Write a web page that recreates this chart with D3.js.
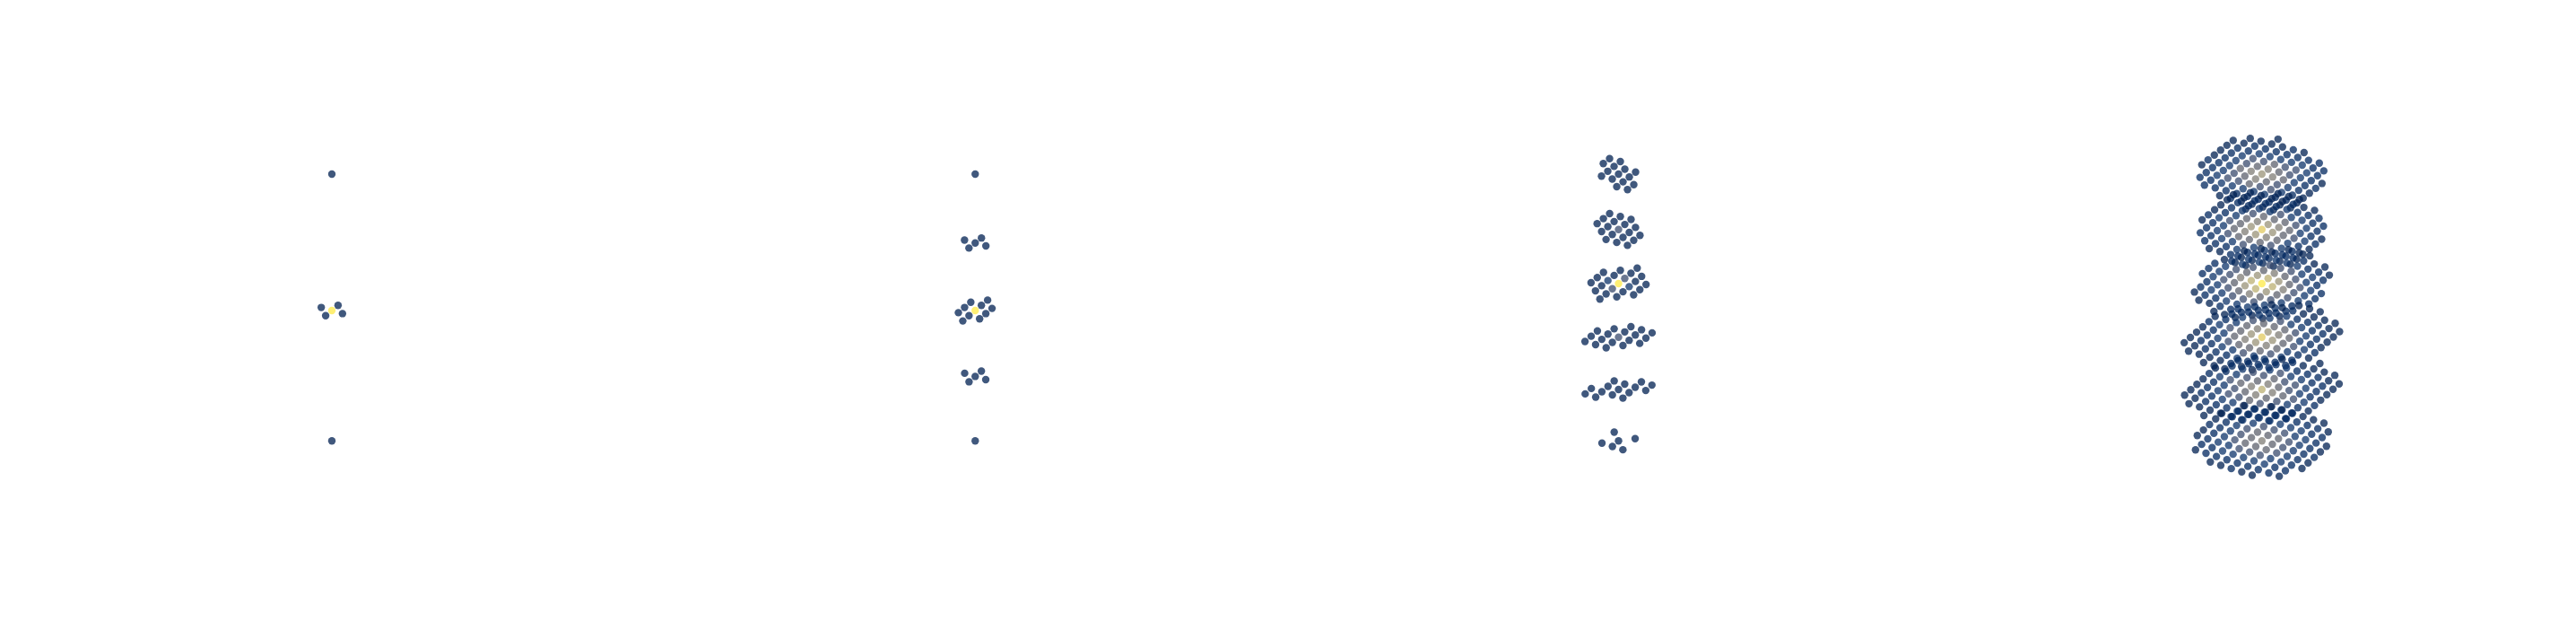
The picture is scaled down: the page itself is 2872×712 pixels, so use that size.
<!DOCTYPE html>
<html><head><meta charset="utf-8">
<script src="https://cdn.jsdelivr.net/npm/d3@7"></script>
<style>html,body{margin:0;padding:0;background:#fff}svg{display:block}</style>
</head><body><svg id="chart" width="2872" height="712"></svg>
<script>
// Each row: [lattice row i, first lattice column j, one level digit (0-9) per point]
const levelValues = [0,0.04,0.11,0.24,0.36,0.5,0.62,0.75,0.87,1];
const panel1Layers = [
  {z:0,   rows:[[0,0,"0"]]},
  {z:2.5, rows:[[1,0,"0"],[0,-1,"090"],[-1,0,"0"]]},
  {z:5,   rows:[[0,0,"0"]]}
];
const panel2Layers = [
  {z:0,    rows:[[0,0,"0"]]},
  {z:1.25, rows:[[1,0,"0"],[0,-1,"000"],[-1,0,"0"]]},
  {z:2.5,  rows:[[2,0,"0"],[1,-1,"000"],[0,-1,"090"],[-1,-1,"000"],[-2,0,"0"]]},
  {z:3.75, rows:[[1,0,"0"],[0,-1,"000"],[-1,0,"0"]]},
  {z:5,    rows:[[0,0,"0"]]}
];
const panel3Layers = [
  {z:0, rows:[[2,-2,"00"],[1,-2,"0000"],[0,-1,"000"],[-1,-1,"0000"],[-2,1,"00"]]},
  {z:1, rows:[[2,-2,"000"],[1,-2,"0000"],[0,-2,"00300"],[-1,-1,"0000"],[-2,0,"000"]]},
  {z:2, rows:[[3,0,"0"],[2,-1,"000"],[1,-2,"00300"],[0,-2,"02920"],[-1,-2,"00300"],[-2,-1,"000"],[-3,0,"0"]]},
  {z:3, rows:[[2,0,"000"],[1,-1,"0000"],[0,-2,"00300"],[-1,-2,"0000"],[-2,-2,"000"]]},
  {z:4, rows:[[2,1,"00"],[1,-1,"0000"],[0,-1,"000"],[-1,-2,"0000"],[-2,-2,"00"]]},
  {z:5, rows:[[1,-1,"0"],[1,1,"0"],[0,0,"0"],[-1,-1,"000"]]}
];
const panel4Layer0 = [[6,-2,"0"],[5,-4,"000010"],[4,-5,"001111111"],[3,-5,"0112222211"],[2,-5,"0123343321"],[1,-5,"01234543210"],[0,-5,"11245654211"],[-1,-5,"01234543210"],[-2,-4,"1233433210"],[-3,-4,"1122222110"],[-4,-3,"111111100"],[-5,-1,"010000"],[-6,2,"0"]];
const panel4Layer1 = [[6,-2,"000"],[5,-4,"0000100"],[4,-5,"001112111"],[3,-5,"0112232211"],[2,-5,"0123444321"],[1,-5,"01245654210"],[0,-5,"12346864321"],[-1,-5,"01245654210"],[-2,-4,"1234443210"],[-3,-4,"1122322110"],[-4,-3,"111211100"],[-5,-2,"0010000"],[-6,0,"000"]];
const panel4Layer2 = [[6,-1,"000"],[5,-3,"0011100"],[4,-4,"011222110"],[3,-4,"122333221"],[2,-4,"123454321"],[1,-5,"12346764321"],[0,-5,"12357975321"],[-1,-5,"12346764321"],[-2,-4,"123454321"],[-3,-4,"122333221"],[-4,-4,"011222110"],[-5,-3,"0011100"],[-6,-1,"000"]];
const panel4Layer3 = [[6,0,"000"],[5,-2,"0010000"],[4,-3,"111211100"],[3,-4,"1122322110"],[2,-4,"1234443210"],[1,-5,"01245654210"],[0,-5,"12346864321"],[-1,-5,"01245654210"],[-2,-5,"0123444321"],[-3,-5,"0112232211"],[-4,-5,"001112111"],[-5,-4,"0000100"],[-6,-2,"000"]];
const panel4Layer4 = [[6,2,"0"],[5,-1,"010000"],[4,-3,"111211100"],[3,-4,"1122322110"],[2,-4,"1233433210"],[1,-5,"01234543210"],[0,-5,"12345754321"],[-1,-5,"01234543210"],[-2,-5,"0123343321"],[-3,-5,"0112232211"],[-4,-5,"001112111"],[-5,-4,"000010"],[-6,-2,"0"]];
const panel4Layer5 = [[5,-2,"001000"],[4,-4,"011111110"],[3,-4,"112222211"],[2,-5,"01223332210"],[1,-5,"01234443210"],[0,-5,"11234543211"],[-1,-5,"01234443210"],[-2,-5,"01223332210"],[-3,-4,"112222211"],[-4,-4,"011111110"],[-5,-2,"00100"]];
const panel4Layers = [panel4Layer0,panel4Layer1,panel4Layer2,panel4Layer3,panel4Layer4,panel4Layer5].map((rows,z)=>({z,rows}));
const panels = [panel1Layers,panel2Layers,panel3Layers,panel4Layers];

const panelX = d3.scaleLinear().domain([0,3]).range([370,2521.8]);
const layerY = d3.scaleLinear().domain([0,1,2,2.5,3,4,5]).range([194,255.7,316,346,375.7,434,491.3]);
const iX = d3.scaleLinear().domain([0,5]).range([7,6.83]);
const iY = d3.scaleLinear().domain([0,5]).range([-5.43,-6.17]);
const jX = d3.scaleLinear().domain([0,5]).range([12,11.67]);
const jY = d3.scaleLinear().domain([0,5]).range([3.17,3.67]);
const colour = d3.scaleSequential(d3.interpolateCividis).domain([0,1]);

const points = panels.flatMap((layers,p)=>layers.flatMap(l=>l.rows.flatMap(([i,j0,levels])=>
  Array.from(levels,(d,k)=>({p,z:l.z,i,j:j0+k,value:levelValues[+d]})))));

d3.select("#chart").selectAll("circle").data(points).join("circle")
  .attr("cx",d=>panelX(d.p)+d.i*iX(d.z)+d.j*jX(d.z))
  .attr("cy",d=>layerY(d.z)+d.i*iY(d.z)+d.j*jY(d.z))
  .attr("r",4.2)
  .attr("fill",d=>colour(d.value))
  .attr("fill-opacity",0.75);
</script></body></html>
